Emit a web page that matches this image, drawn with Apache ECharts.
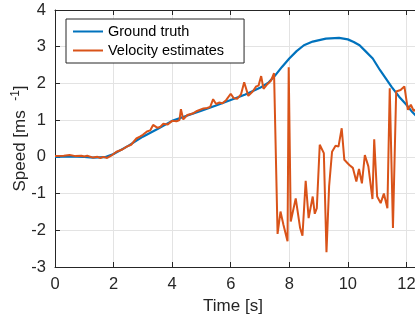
<!DOCTYPE html>
<html>
<head>
<meta charset="utf-8">
<script src="https://cdn.jsdelivr.net/npm/echarts@6/dist/echarts.min.js"></script>
<style>
html,body{margin:0;padding:0;background:#fff;overflow:hidden;width:415px;height:321px;}
#chart{width:466px;height:321px;}
</style>
</head>
<body>
<div id="chart"></div>
<script>
const seriesNames = ['Ground truth', 'Velocity estimates'];
const xTicks = [0, 2, 4, 6, 8, 10, 12];
const yTicks = [-3, -2, -1, 0, 1, 2, 3, 4];

const gtTime  = [0, 0.5, 1.0, 1.3, 1.7, 2.0, 2.5, 3.0, 3.5, 4.0, 4.5, 5.0, 5.5, 6.0, 6.5, 7.0, 7.3, 7.5, 7.75, 8.0, 8.25, 8.5, 8.8, 9.25, 9.7, 10.0, 10.2, 10.4, 10.6, 10.85, 11.1, 11.3, 11.5, 11.75, 12.0, 12.2, 12.35];
const gtSpeed = [0, 0.01, 0.0, -0.02, -0.01, 0.08, 0.3, 0.55, 0.76, 0.98, 1.12, 1.26, 1.4, 1.55, 1.7, 1.88, 2.03, 2.2, 2.45, 2.68, 2.88, 3.04, 3.14, 3.22, 3.24, 3.2, 3.13, 3.04, 2.88, 2.68, 2.36, 2.13, 1.9, 1.64, 1.42, 1.22, 1.1];

const estTime  = [0.0, 0.3, 0.5, 0.7, 0.9, 1.0, 1.1, 1.3, 1.45, 1.55, 1.65, 1.78, 1.95, 2.1, 2.3, 2.45, 2.6, 2.78, 2.9, 3.0, 3.14, 3.25, 3.35, 3.5, 3.6, 3.7, 3.85, 4.0, 4.15, 4.25, 4.3, 4.38, 4.52, 4.7, 4.85, 5.07, 5.2, 5.3, 5.4, 5.5, 5.6, 5.72, 5.85, 6.0, 6.1, 6.22, 6.35, 6.46, 6.6, 6.75, 6.87, 6.95, 7.04, 7.12, 7.25, 7.38, 7.48, 7.6, 7.7, 7.8, 7.94, 7.98, 8.05, 8.22, 8.37, 8.45, 8.56, 8.66, 8.72, 8.8, 8.87, 8.94, 9.04, 9.18, 9.27, 9.36, 9.46, 9.58, 9.68, 9.79, 9.88, 10.05, 10.17, 10.22, 10.29, 10.38, 10.48, 10.58, 10.7, 10.84, 10.9, 11.0, 11.12, 11.23, 11.35, 11.43, 11.54, 11.65, 11.8, 11.93, 12.05, 12.15, 12.25, 12.35];
const estSpeed = [0.02, 0.03, 0.05, 0.02, 0.03, 0.01, 0.03, -0.02, 0.0, -0.03, 0.0, -0.03, 0.05, 0.14, 0.2, 0.28, 0.33, 0.5, 0.55, 0.6, 0.69, 0.72, 0.87, 0.79, 0.82, 0.9, 0.88, 0.98, 0.97, 1.0, 1.3, 1.02, 1.14, 1.18, 1.25, 1.32, 1.33, 1.36, 1.57, 1.44, 1.48, 1.46, 1.55, 1.72, 1.6, 1.58, 1.7, 2.03, 1.66, 1.78, 1.92, 1.94, 2.2, 1.85, 1.98, 2.08, 2.28, -2.1, -1.49, -1.85, -2.3, 2.44, -1.76, -1.13, -1.94, -2.15, -0.65, -1.67, -1.7, -1.08, -1.55, -1.4, 0.33, 0.1, -2.6, -0.8, 0.14, 0.3, 0.28, 0.78, -0.08, -0.22, -0.3, -0.3, -0.67, -0.33, -0.72, 0.05, -0.26, -1.15, 0.48, -1.08, -1.26, -1.0, -1.4, 1.87, -1.94, 1.78, 1.82, 1.92, 1.28, 1.42, 1.25, 1.32];

const gtData = gtTime.map((t, i) => [t, gtSpeed[i]]);
const estData = estTime.map((t, i) => [t, estSpeed[i]]);

const axisColor = '#262626';
const gridColor = '#e3e3e3';
const fontFam = '"Liberation Sans", Arial, Helvetica, sans-serif';

const chart = echarts.init(document.getElementById('chart'), null, {renderer: 'canvas'});
chart.setOption({
  animation: false,
  backgroundColor: '#ffffff',
  textStyle: {fontFamily: fontFam},
  grid: {left: 55, right: 1, top: 10, bottom: 54, containLabel: false, outerBoundsMode: 'none'},
  legend: {
    data: seriesNames,
    orient: 'vertical',
    left: 66, top: 19,
    padding: [5, 20, 5, 6],
    itemWidth: 30, itemHeight: 14, itemGap: 4,
    borderColor: axisColor, borderWidth: 1, borderRadius: 0,
    backgroundColor: '#ffffff',
    itemStyle: {opacity: 0},
    lineStyle: {opacity: 1},
    textStyle: {fontSize: 14.5, color: '#000000', fontFamily: fontFam}
  },
  xAxis: [{
    type: 'value', min: xTicks[0], max: 14, interval: 2,
    name: 'Time [s]', nameLocation: 'middle', nameGap: 31, nameMoveOverlap: false,
    nameTextStyle: {fontSize: 17, color: axisColor, fontFamily: fontFam, padding: [0, 54, 0, 0]},
    axisLine: {show: true, onZero: false, lineStyle: {color: axisColor, width: 1}},
    axisTick: {show: true, inside: true, length: 5, lineStyle: {color: axisColor}},
    axisLabel: {fontSize: 16.5, color: axisColor, margin: 9, fontFamily: fontFam},
    splitLine: {show: true, lineStyle: {color: gridColor, width: 1}}
  }, {
    type: 'value', position: 'top', min: xTicks[0], max: 14, interval: 2,
    axisLine: {show: true, onZero: false, lineStyle: {color: axisColor, width: 1}},
    axisTick: {show: true, inside: true, length: 5, lineStyle: {color: axisColor}},
    axisLabel: {show: false},
    splitLine: {show: false}
  }],
  yAxis: [{
    type: 'value', min: yTicks[0], max: yTicks[yTicks.length - 1], interval: 1,
    name: '{a|Speed [ms  }{s|-1}{a|]}', nameLocation: 'middle', nameGap: 24, nameRotate: 90,
    nameMoveOverlap: false,
    nameTextStyle: {
      fontSize: 17, color: axisColor, fontFamily: fontFam,
      rich: {
        a: {fontSize: 17, color: axisColor, fontFamily: fontFam},
        s: {fontSize: 12, color: axisColor, fontFamily: fontFam, padding: [0, 0, 9, 0]}
      }
    },
    axisLine: {show: true, onZero: false, lineStyle: {color: axisColor, width: 1}},
    axisTick: {show: true, inside: true, length: 5, lineStyle: {color: axisColor}},
    axisLabel: {fontSize: 16.5, color: axisColor, margin: 9, fontFamily: fontFam},
    splitLine: {show: true, lineStyle: {color: gridColor, width: 1}}
  }],
  series: [{
    name: seriesNames[0], type: 'line', data: gtData, symbol: 'none', showSymbol: false,
    lineStyle: {color: '#0072BD', width: 2.2}, itemStyle: {color: '#0072BD'}, z: 2
  }, {
    name: seriesNames[1], type: 'line', data: estData, symbol: 'none', showSymbol: false,
    lineStyle: {color: '#D95319', width: 2}, itemStyle: {color: '#D95319'}, z: 3
  }]
});
</script>
</body>
</html>
